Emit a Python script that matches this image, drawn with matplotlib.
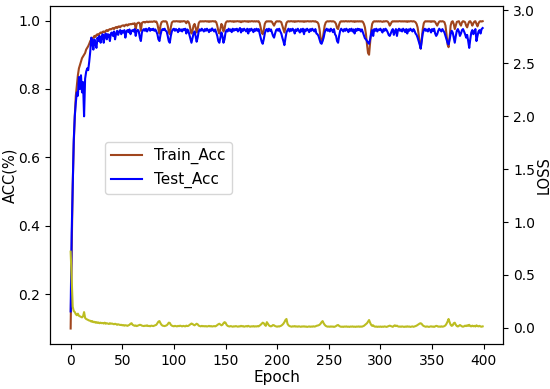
import numpy as np
import matplotlib
matplotlib.use("Agg")
import matplotlib.pyplot as plt

# accuracy / loss values, one value per epoch (0..399)
train_acc = [
    0.100, 0.330, 0.520, 0.640, 0.720, 0.780, 0.810, 0.840, 0.860, 0.870,
    0.880, 0.890, 0.895, 0.900, 0.905, 0.915, 0.920, 0.925, 0.932, 0.940,
    0.945, 0.948, 0.950, 0.955, 0.952, 0.958, 0.960, 0.957, 0.962, 0.965,
    0.963, 0.967, 0.968, 0.965, 0.970, 0.972, 0.969, 0.973, 0.975, 0.974,
    0.976, 0.978, 0.975, 0.979, 0.981, 0.978, 0.982, 0.983, 0.980, 0.984,
    0.985, 0.986, 0.983, 0.987, 0.988, 0.985, 0.989, 0.988, 0.990, 0.989,
    0.991, 0.990, 0.992, 0.975, 0.990, 0.993, 0.994, 0.992, 0.970, 0.993,
    0.995, 0.996, 0.994, 0.996, 0.997, 0.995, 0.997, 0.996, 0.997, 0.996,
    0.997, 0.998, 0.996, 0.997, 0.990, 0.975, 0.962, 0.985, 0.995, 0.997,
    0.998, 0.997, 0.998, 0.996, 0.985, 0.968, 0.960, 0.980, 0.994, 0.997,
    0.998, 0.997, 0.998, 0.998, 0.997, 0.998, 0.996, 0.998, 0.997, 0.998,
    0.998, 0.997, 0.992, 0.998, 0.997, 0.990, 0.975, 0.962, 0.970, 0.985,
    0.990, 0.980, 0.965, 0.975, 0.992, 0.997, 0.998, 0.997, 0.998, 0.997,
    0.998, 0.998, 0.997, 0.998, 0.996, 0.998, 0.997, 0.998, 0.998, 0.997,
    0.998, 0.995, 0.985, 0.970, 0.962, 0.975, 0.990, 0.985, 0.968, 0.975,
    0.992, 0.997, 0.998, 0.997, 0.998, 0.998, 0.997, 0.998, 0.996, 0.998,
    0.997, 0.998, 0.998, 0.997, 0.998, 0.995, 0.998, 0.997, 0.998, 0.998,
    0.997, 0.998, 0.996, 0.998, 0.997, 0.998, 0.998, 0.997, 0.998, 0.997,
    0.998, 0.997, 0.998, 0.993, 0.980, 0.965, 0.960, 0.972, 0.990, 0.996,
    0.998, 0.997, 0.998, 0.997, 0.998, 0.996, 0.990, 0.985, 0.992, 0.997,
    0.998, 0.997, 0.998, 0.997, 0.995, 0.985, 0.975, 0.965, 0.980, 0.993,
    0.997, 0.998, 0.997, 0.998, 0.998, 0.997, 0.998, 0.996, 0.998, 0.997,
    0.998, 0.998, 0.997, 0.998, 0.997, 0.998, 0.996, 0.998, 0.997, 0.998,
    0.998, 0.997, 0.998, 0.997, 0.998, 0.998, 0.997, 0.998, 0.996, 0.995,
    0.990, 0.975, 0.950, 0.935, 0.945, 0.965, 0.985, 0.994, 0.997, 0.998,
    0.997, 0.998, 0.998, 0.997, 0.998, 0.997, 0.995, 0.990, 0.978, 0.975,
    0.988, 0.996, 0.998, 0.997, 0.998, 0.997, 0.998, 0.998, 0.997, 0.998,
    0.997, 0.998, 0.998, 0.997, 0.998, 0.996, 0.998, 0.997, 0.998, 0.997,
    0.998, 0.997, 0.998, 0.996, 0.990, 0.980, 0.960, 0.930, 0.905, 0.900,
    0.935, 0.970, 0.990, 0.996, 0.998, 0.997, 0.998, 0.997, 0.998, 0.997,
    0.998, 0.997, 0.996, 0.998, 0.997, 0.998, 0.998, 0.997, 0.993, 0.985,
    0.990, 0.996, 0.998, 0.997, 0.998, 0.997, 0.998, 0.997, 0.998, 0.998,
    0.997, 0.998, 0.997, 0.998, 0.997, 0.998, 0.996, 0.998, 0.997, 0.998,
    0.998, 0.997, 0.998, 0.997, 0.995, 0.990, 0.980, 0.960, 0.935, 0.918,
    0.945, 0.975, 0.992, 0.997, 0.998, 0.997, 0.998, 0.997, 0.998, 0.996,
    0.998, 0.997, 0.998, 0.996, 0.990, 0.985, 0.992, 0.997, 0.998, 0.997,
    0.998, 0.997, 0.995, 0.985, 0.960, 0.930, 0.922, 0.950, 0.985, 0.996,
    0.998, 0.990, 0.975, 0.985, 0.996, 0.997, 0.998, 0.990, 0.985, 0.995,
    0.998, 0.997, 0.995, 0.985, 0.980, 0.990, 0.997, 0.998, 0.993, 0.985,
    0.992, 0.997, 0.998, 0.990, 0.983, 0.992, 0.997, 0.998, 0.997, 0.998,
]

test_acc = [
    0.150, 0.380, 0.520, 0.650, 0.720, 0.760, 0.790, 0.780, 0.835, 0.800,
    0.840, 0.790, 0.820, 0.720, 0.830, 0.850, 0.860, 0.855, 0.880, 0.910,
    0.950, 0.935, 0.915, 0.945, 0.930, 0.920, 0.950, 0.940, 0.955, 0.935,
    0.950, 0.960, 0.935, 0.955, 0.962, 0.945, 0.960, 0.958, 0.940, 0.963,
    0.965, 0.955, 0.968, 0.945, 0.962, 0.970, 0.958, 0.968, 0.972, 0.960,
    0.970, 0.965, 0.972, 0.950, 0.968, 0.972, 0.966, 0.974, 0.960, 0.970,
    0.972, 0.968, 0.975, 0.955, 0.970, 0.973, 0.968, 0.950, 0.940, 0.965,
    0.972, 0.975, 0.970, 0.976, 0.968, 0.974, 0.978, 0.970, 0.975, 0.972,
    0.976, 0.970, 0.974, 0.968, 0.960, 0.945, 0.940, 0.958, 0.970, 0.975,
    0.972, 0.976, 0.970, 0.968, 0.955, 0.940, 0.935, 0.955, 0.968, 0.974,
    0.976, 0.970, 0.975, 0.972, 0.966, 0.976, 0.970, 0.974, 0.968, 0.975,
    0.972, 0.976, 0.962, 0.974, 0.970, 0.958, 0.945, 0.935, 0.948, 0.962,
    0.968, 0.955, 0.938, 0.950, 0.968, 0.974, 0.970, 0.976, 0.972, 0.968,
    0.975, 0.970, 0.976, 0.972, 0.966, 0.974, 0.970, 0.977, 0.972, 0.968,
    0.974, 0.965, 0.955, 0.940, 0.935, 0.950, 0.965, 0.955, 0.935, 0.945,
    0.965, 0.972, 0.968, 0.976, 0.970, 0.974, 0.966, 0.976, 0.970, 0.975,
    0.972, 0.976, 0.968, 0.974, 0.978, 0.965, 0.975, 0.970, 0.976, 0.972,
    0.968, 0.976, 0.962, 0.975, 0.970, 0.976, 0.972, 0.966, 0.975, 0.970,
    0.976, 0.970, 0.975, 0.962, 0.950, 0.938, 0.932, 0.945, 0.962, 0.972,
    0.975, 0.968, 0.976, 0.970, 0.974, 0.965, 0.955, 0.950, 0.962, 0.972,
    0.975, 0.970, 0.976, 0.968, 0.962, 0.950, 0.940, 0.928, 0.948, 0.965,
    0.972, 0.976, 0.968, 0.975, 0.970, 0.976, 0.972, 0.962, 0.974, 0.970,
    0.976, 0.970, 0.965, 0.975, 0.968, 0.976, 0.960, 0.974, 0.970, 0.976,
    0.972, 0.966, 0.975, 0.970, 0.976, 0.972, 0.968, 0.975, 0.962, 0.960,
    0.955, 0.945, 0.935, 0.932, 0.940, 0.950, 0.965, 0.972, 0.976, 0.970,
    0.974, 0.968, 0.976, 0.972, 0.966, 0.975, 0.960, 0.955, 0.940, 0.935,
    0.955, 0.970, 0.976, 0.972, 0.968, 0.975, 0.970, 0.976, 0.972, 0.966,
    0.975, 0.970, 0.976, 0.968, 0.974, 0.962, 0.975, 0.970, 0.976, 0.972,
    0.975, 0.968, 0.974, 0.965, 0.955, 0.948, 0.945, 0.940, 0.935, 0.932,
    0.945, 0.960, 0.972, 0.955, 0.975, 0.970, 0.976, 0.968, 0.974, 0.972,
    0.976, 0.970, 0.965, 0.975, 0.970, 0.976, 0.972, 0.966, 0.958, 0.955,
    0.962, 0.970, 0.975, 0.958, 0.968, 0.975, 0.955, 0.972, 0.976, 0.970,
    0.974, 0.968, 0.976, 0.972, 0.966, 0.975, 0.962, 0.974, 0.970, 0.976,
    0.972, 0.968, 0.975, 0.970, 0.962, 0.958, 0.950, 0.940, 0.930, 0.918,
    0.940, 0.962, 0.972, 0.976, 0.970, 0.974, 0.968, 0.976, 0.972, 0.965,
    0.975, 0.970, 0.976, 0.962, 0.955, 0.960, 0.970, 0.976, 0.972, 0.968,
    0.975, 0.970, 0.965, 0.955, 0.945, 0.935, 0.930, 0.945, 0.960, 0.970,
    0.965, 0.950, 0.935, 0.955, 0.970, 0.975, 0.968, 0.955, 0.962, 0.972,
    0.975, 0.968, 0.960, 0.950, 0.958, 0.940, 0.920, 0.945, 0.965, 0.972,
    0.960, 0.968, 0.975, 0.940, 0.955, 0.968, 0.972, 0.962, 0.975, 0.978,
]

loss = [
    0.720, 0.450, 0.200, 0.160, 0.150, 0.130, 0.120, 0.135, 0.115, 0.110,
    0.105, 0.100, 0.110, 0.150, 0.095, 0.085, 0.080, 0.075, 0.070, 0.068,
    0.060, 0.065, 0.055, 0.058, 0.050, 0.055, 0.048, 0.052, 0.045, 0.050,
    0.045, 0.048, 0.042, 0.050, 0.040, 0.045, 0.042, 0.038, 0.045, 0.040,
    0.042, 0.038, 0.035, 0.040, 0.036, 0.030, 0.035, 0.032, 0.028, 0.030,
    0.025, 0.028, 0.022, 0.026, 0.024, 0.020, 0.025, 0.030, 0.040, 0.045,
    0.030, 0.025, 0.020, 0.024, 0.018, 0.022, 0.025, 0.030, 0.028, 0.022,
    0.020, 0.018, 0.022, 0.020, 0.025, 0.018, 0.020, 0.016, 0.022, 0.020,
    0.018, 0.022, 0.025, 0.030, 0.045, 0.060, 0.065, 0.045, 0.030, 0.022,
    0.020, 0.018, 0.022, 0.025, 0.035, 0.050, 0.048, 0.030, 0.022, 0.018,
    0.016, 0.020, 0.018, 0.015, 0.020, 0.017, 0.022, 0.018, 0.015, 0.020,
    0.018, 0.015, 0.022, 0.018, 0.020, 0.028, 0.035, 0.042, 0.038, 0.030,
    0.025, 0.032, 0.040, 0.035, 0.022, 0.018, 0.015, 0.020, 0.016, 0.018,
    0.015, 0.018, 0.014, 0.016, 0.020, 0.015, 0.018, 0.014, 0.016, 0.018,
    0.015, 0.020, 0.028, 0.035, 0.040, 0.032, 0.025, 0.030, 0.045, 0.055,
    0.050, 0.030, 0.020, 0.016, 0.014, 0.018, 0.015, 0.012, 0.016, 0.014,
    0.018, 0.015, 0.012, 0.016, 0.014, 0.020, 0.015, 0.018, 0.012, 0.015,
    0.018, 0.014, 0.020, 0.015, 0.012, 0.016, 0.014, 0.018, 0.013, 0.016,
    0.014, 0.018, 0.015, 0.022, 0.030, 0.040, 0.050, 0.045, 0.030, 0.020,
    0.055, 0.040, 0.025, 0.018, 0.015, 0.020, 0.028, 0.025, 0.018, 0.015,
    0.012, 0.016, 0.014, 0.018, 0.022, 0.030, 0.040, 0.055, 0.075, 0.085,
    0.040, 0.025, 0.018, 0.015, 0.012, 0.016, 0.014, 0.018, 0.013, 0.015,
    0.012, 0.016, 0.014, 0.011, 0.015, 0.013, 0.016, 0.012, 0.014, 0.010,
    0.013, 0.015, 0.011, 0.014, 0.012, 0.016, 0.013, 0.015, 0.020, 0.022,
    0.025, 0.030, 0.040, 0.055, 0.065, 0.045, 0.030, 0.020, 0.015, 0.012,
    0.014, 0.011, 0.015, 0.012, 0.014, 0.010, 0.013, 0.018, 0.025, 0.028,
    0.020, 0.014, 0.011, 0.013, 0.010, 0.014, 0.012, 0.015, 0.011, 0.013,
    0.010, 0.014, 0.012, 0.015, 0.011, 0.013, 0.010, 0.014, 0.012, 0.015,
    0.011, 0.014, 0.012, 0.016, 0.020, 0.028, 0.035, 0.045, 0.060, 0.075,
    0.050, 0.030, 0.020, 0.025, 0.015, 0.012, 0.014, 0.010, 0.013, 0.011,
    0.014, 0.010, 0.013, 0.011, 0.015, 0.012, 0.010, 0.014, 0.018, 0.022,
    0.018, 0.013, 0.011, 0.020, 0.025, 0.018, 0.022, 0.015, 0.012, 0.014,
    0.011, 0.015, 0.012, 0.010, 0.014, 0.011, 0.016, 0.012, 0.014, 0.010,
    0.013, 0.015, 0.011, 0.014, 0.018, 0.022, 0.028, 0.035, 0.042, 0.045,
    0.038, 0.025, 0.018, 0.014, 0.011, 0.015, 0.012, 0.010, 0.013, 0.016,
    0.012, 0.014, 0.010, 0.015, 0.020, 0.018, 0.012, 0.014, 0.011, 0.016,
    0.012, 0.014, 0.018, 0.025, 0.040, 0.060, 0.085, 0.055, 0.030, 0.020,
    0.025, 0.045, 0.050, 0.030, 0.018, 0.014, 0.020, 0.028, 0.022, 0.015,
    0.012, 0.016, 0.022, 0.018, 0.025, 0.020, 0.030, 0.018, 0.015, 0.022,
    0.016, 0.020, 0.014, 0.025, 0.018, 0.015, 0.020, 0.014, 0.012, 0.015,
]

epochs = np.arange(len(train_acc))

fig, ax = plt.subplots(figsize=(5.5, 3.89), dpi=100)
fig.subplots_adjust(left=0.091, right=0.915, top=0.985, bottom=0.116)

ax.plot(epochs, train_acc, color="#a0461e", lw=1.5, label="Train_Acc")
ax.plot(epochs, test_acc, color="blue", lw=1.5, label="Test_Acc")
ax.set_xlabel("Epoch", fontsize=11, labelpad=2)
ax.set_ylabel("ACC(%)", fontsize=10.5, labelpad=1)
ax.set_xticks([0, 50, 100, 150, 200, 250, 300, 350, 400])
ax.legend(loc="lower left", bbox_to_anchor=(0.105, 0.42), fontsize=11)

ax2 = ax.twinx()
ax2.plot(epochs, loss, color="#bcbd22", lw=1.5)
ax2.set_ylim(-0.15, 3.04)
ax2.set_ylabel("LOSS", fontsize=10.5, labelpad=1)

fig.savefig("out.png", dpi=100)
